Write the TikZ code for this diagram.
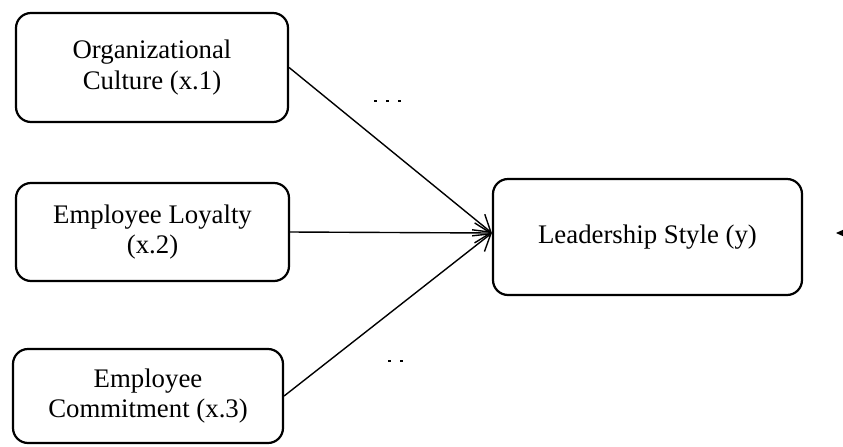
\documentclass[tikz,border=0pt]{standalone}
\usepackage{fontspec}
\setmainfont{Liberation Serif}
\usepackage{xcolor}
\usepackage{tikz}
\usetikzlibrary{calc,arrows.meta}
\tikzset{
  var/.style={draw, line width=1.1pt, rounded corners=7.5pt, align=center,
    font=\fontsize{13.4}{15.2}\selectfont, inner sep=0pt},
  link/.style={line width=0.7pt, -{Straight Barb[length=8pt,width=10pt,line width=0.7pt]}},
  stub/.style={line width=1pt}
}

\begin{document}
\begin{tikzpicture}[x=0.5pt,y=-0.5pt]
  \useasboundingbox (0,0) rectangle (843,446);

  \node[var, minimum width=136pt, minimum height=54.5pt] (oc) at (152,67.5) {Organizational\\Culture (x.1)};
  \node[var, minimum width=136.5pt, minimum height=49pt] (el) at (152.5,232) {Employee Loyalty\\(x.2)};
  \node[var, minimum width=135pt, minimum height=47pt] (ec) at (148,396) {Employee\\Commitment (x.3)};
  \node[var, minimum width=154.5pt, minimum height=58pt] (ls) at (647.5,237) {Leadership Style (y)};

  \coordinate (join) at ($(ls.west)+(0,-4)$);
  \draw[link] (oc.east) -- (join);
  \draw[link] (el.east) -- (join);
  \draw[link] (ec.east) -- (join);

  % stray marks
  \foreach \x in {374,386,398} \draw[stub] (\x,101) -- ++(3,0);
  \foreach \x in {388,400} \draw[stub] (\x,361) -- ++(3,0);

  % cut arrow at the right edge
  \coordinate (edge) at (852,233);
  \coordinate (tip) at (836,233);
  \draw[line width=0.7pt, -{Triangle[length=9pt,width=8pt]}] (edge) -- (tip);
\end{tikzpicture}
\end{document}
